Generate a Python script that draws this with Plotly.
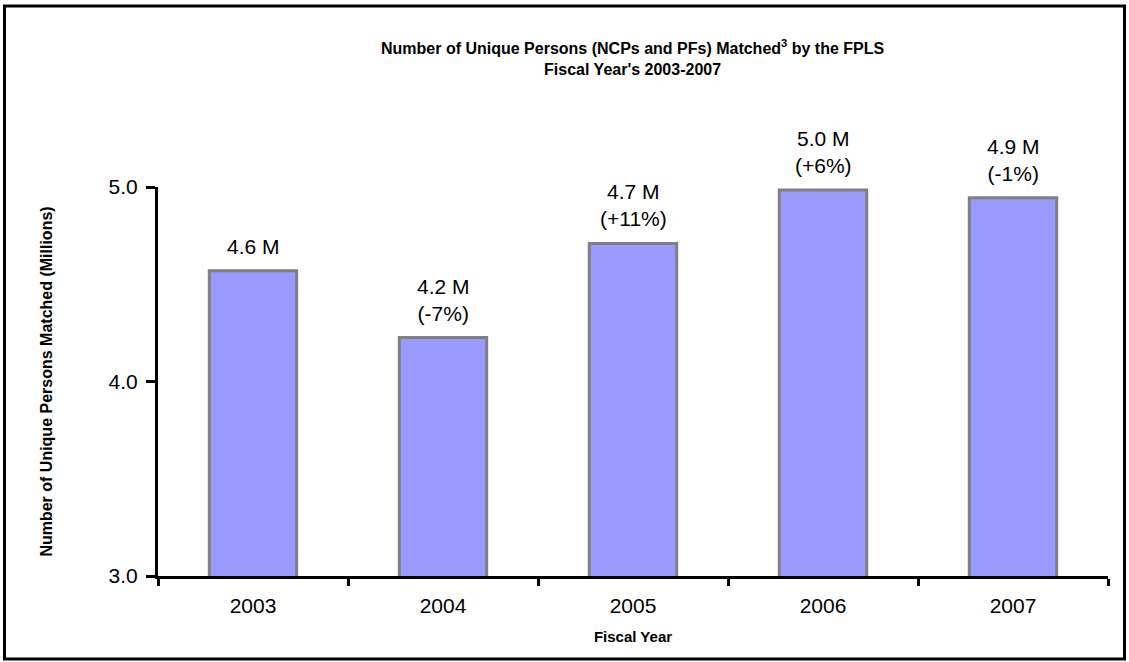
import plotly.graph_objects as go

years = ["2003", "2004", "2005", "2006", "2007"]
values = [4.57, 4.226, 4.71, 4.985, 4.945]
value_labels = ["4.6 M", "4.2 M", "4.7 M", "5.0 M", "4.9 M"]
pct_labels = ["", "(-7%)", "(+11%)", "(+6%)", "(-1%)"]
y_ticks = [3.0, 4.0, 5.0]

W, H = 1129, 662
L, R, T, B = 158, 21, 187, 86
pw, ph = W - L - R, H - T - B

def px_x(p):
    return (p - L) / pw

def px_y(p):
    return (H - B - p) / ph

FONT = "Liberation Sans, Arial, sans-serif"

fig = go.Figure()
fig.add_trace(go.Bar(
    x=years, y=values, base=0,
    marker=dict(color="#9999FF", line=dict(color="#808080", width=3)),
    width=0.46, hoverinfo="skip",
))

annotations = []
for i, (v, vl, pl) in enumerate(zip(values, value_labels, pct_labels)):
    txt = vl if not pl else f"{vl}<br>{pl}"
    annotations.append(dict(
        x=i, y=v, xref="x", yref="y", text=txt, showarrow=False,
        yanchor="bottom", yshift=11,
        font=dict(family=FONT, size=21, color="black"),
    ))

annotations.append(dict(
    x=0.5, y=px_y(57), xref="paper", yref="paper",
    text="<b>Number of Unique Persons (NCPs and PFs) Matched<sup>3</sup> by the FPLS<br>Fiscal Year's 2003-2007</b>",
    showarrow=False, xanchor="center", yanchor="middle",
    font=dict(family=FONT, size=16, color="black"),
))

fig.update_layout(
    width=W, height=H,
    margin=dict(l=L, r=R, t=T, b=B),
    paper_bgcolor="white", plot_bgcolor="white",
    showlegend=False,
    bargap=0.54,
    annotations=annotations,
    xaxis=dict(
        type="category", range=[-0.5, 4.5],
        showline=True, linecolor="black", linewidth=3,
        ticks="outside", tickson="boundaries", ticklen=7, tickwidth=3, tickcolor="black",
        ticklabelstandoff=9,
        showgrid=False, zeroline=False,
        tickfont=dict(family=FONT, size=21, color="black"),
        title=dict(text="<b>Fiscal Year</b>", standoff=16,
                   font=dict(family=FONT, size=15, color="black")),
    ),
    yaxis=dict(
        range=[3, 5], tickvals=y_ticks, tickformat=".1f",
        showline=True, linecolor="black", linewidth=3,
        ticks="outside", ticklen=9, tickwidth=3, tickcolor="black",
        ticklabelstandoff=4,
        showgrid=False, zeroline=False,
        tickfont=dict(family=FONT, size=21, color="black"),
        title=dict(text="<b>Number of Unique Persons Matched (Millions)</b>", standoff=52,
                   font=dict(family=FONT, size=16, color="black")),
    ),
    shapes=[dict(
        type="rect", xref="paper", yref="paper",
        x0=px_x(4.5), x1=px_x(1124.5), y0=px_y(659), y1=px_y(6),
        line=dict(color="black", width=3), fillcolor="rgba(0,0,0,0)", layer="above",
    )],
)

fig.write_html("out.html", config={"displayModeBar": False},
               post_script="document.body.style.margin='0';")
